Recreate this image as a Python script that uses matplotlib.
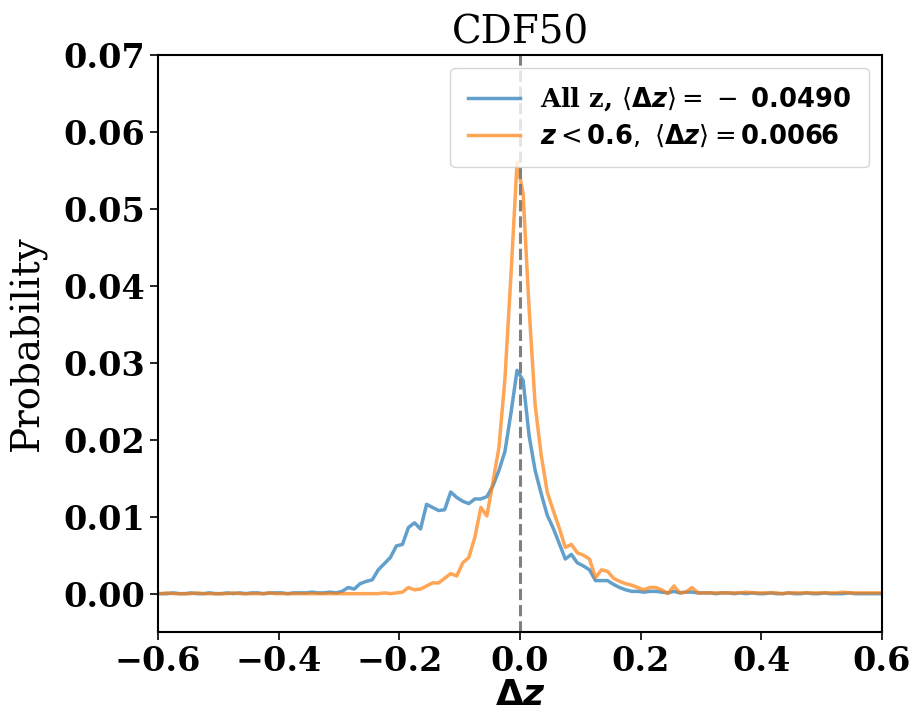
import matplotlib
matplotlib.use('Agg')
import matplotlib.pyplot as plt
import numpy as np

plt.rcParams['font.family'] = ['DejaVu Serif']
plt.rcParams['mathtext.fontset'] = 'dejavusans'

# bin centres of the dz histogram (bin width 0.01)
dz_centers = np.arange(-0.625, 0.6251, 0.01)

# probability per bin, all galaxies
prob_all = [
    0.0000, 0.0000, 0.0001, 0.0000, 0.0000, 0.0001, 0.0000, 0.0000, 0.0001, 0.0000,
    0.0000, 0.0001, 0.0000, 0.0000, 0.0001, 0.0000, 0.0001, 0.0000, 0.0001, 0.0001,
    0.0000, 0.0001, 0.0001, 0.0001, 0.0000, 0.0001, 0.0001, 0.0001, 0.0002, 0.0001,
    0.0001, 0.0002, 0.0001,
    0.0003, 0.0008, 0.0006, 0.0013, 0.0016, 0.0018, 0.0031, 0.0039, 0.0047, 0.0062,
    0.0064, 0.0086, 0.0092, 0.0084, 0.0116, 0.0112, 0.0108, 0.0109, 0.0132, 0.0125,
    0.0120, 0.0117, 0.0123, 0.0123, 0.0126, 0.0140, 0.0160, 0.0185, 0.0235, 0.0290,
    0.0277, 0.0205, 0.0160, 0.0130, 0.0102, 0.0085, 0.0065, 0.0045, 0.0051, 0.0040,
    0.0036, 0.0031, 0.0017, 0.0017, 0.0017, 0.0012, 0.0008, 0.0005, 0.0003, 0.0003,
    0.0002, 0.0003, 0.0003, 0.0002, 0.0001, 0.0003, 0.0001, 0.0002, 0.0002, 0.0001,
    0.0001, 0.0001, 0.0000, 0.0001, 0.0001, 0.0000, 0.0001, 0.0000, 0.0001, 0.0000,
    0.0000, 0.0001, 0.0000, 0.0000, 0.0001, 0.0000, 0.0000, 0.0001, 0.0000, 0.0000,
    0.0001, 0.0000, 0.0000, 0.0000, 0.0001, 0.0000, 0.0000, 0.0000, 0.0000, 0.0000,
    0.0000, 0.0000, 0.0000,
]

# probability per bin, z < 0.6
prob_low = [
    0.0000, 0.0000, 0.0000, 0.0000, 0.0001, 0.0000, 0.0000, 0.0000, 0.0000, 0.0001,
    0.0000, 0.0000, 0.0000, 0.0000, 0.0000, 0.0001, 0.0000, 0.0000, 0.0000, 0.0000,
    0.0000, 0.0001, 0.0000, 0.0000, 0.0000, 0.0000, 0.0000, 0.0000, 0.0000, 0.0000,
    0.0000, 0.0000, 0.0000,
    0.0000, 0.0000, 0.0000, 0.0000, 0.0000, 0.0000, 0.0000, 0.0001, 0.0000, 0.0001,
    0.0002, 0.0008, 0.0005, 0.0006, 0.0010, 0.0014, 0.0014, 0.0020, 0.0026, 0.0023,
    0.0040, 0.0047, 0.0073, 0.0112, 0.0101, 0.0145, 0.0190, 0.0280, 0.0415, 0.0560,
    0.0520, 0.0370, 0.0245, 0.0180, 0.0132, 0.0108, 0.0085, 0.0060, 0.0064, 0.0053,
    0.0050, 0.0045, 0.0021, 0.0031, 0.0029, 0.0020, 0.0016, 0.0013, 0.0011, 0.0008,
    0.0005, 0.0008, 0.0008, 0.0005, 0.0000, 0.0010, 0.0001, 0.0002, 0.0008, 0.0001,
    0.0001, 0.0001, 0.0001, 0.0001, 0.0001, 0.0001, 0.0001, 0.0002, 0.0001, 0.0001,
    0.0001, 0.0001, 0.0001, 0.0000, 0.0001, 0.0001, 0.0001, 0.0001, 0.0001, 0.0001,
    0.0001, 0.0001, 0.0001, 0.0002, 0.0001, 0.0001, 0.0001, 0.0001, 0.0001, 0.0001,
    0.0001, 0.0001, 0.0001,
]

label_all = r'All z, $\langle\mathbf{\Delta}\boldsymbol{z}\rangle = \,-\;\mathbf{0.0490}$'
label_low = r'$\boldsymbol{z} < \mathbf{0.6},\ \langle\mathbf{\Delta}\boldsymbol{z}\rangle = \mathbf{0.0066}$'

fig = plt.figure(figsize=(9.14, 7.2), dpi=100)
ax = fig.add_axes([0.173, 0.122, 0.792, 0.802])

ax.plot(dz_centers, prob_all, color='tab:blue', alpha=0.7, lw=2.5, label=label_all)
ax.plot(dz_centers, prob_low, color='tab:orange', alpha=0.7, lw=2.5, label=label_low)
ax.axvline(0, color='gray', ls='--', lw=2.2)

ax.set_xlim(-0.6, 0.6)
ax.set_ylim(-0.005, 0.07)
ax.set_xticks([-0.6, -0.4, -0.2, 0.0, 0.2, 0.4, 0.6])
ax.set_yticks([0.0, 0.01, 0.02, 0.03, 0.04, 0.05, 0.06, 0.07])
ax.set_yticklabels(['0.00', '0.01', '0.02', '0.03', '0.04', '0.05', '0.06', '0.07'])
for lab in ax.get_xticklabels() + ax.get_yticklabels():
    lab.set_fontweight('bold')
    lab.set_fontsize(24)
ax.tick_params(length=6, width=1.2)
for sp in ax.spines.values():
    sp.set_linewidth(1.5)

ax.set_title('CDF50', fontsize=28, pad=8)
ax.set_ylabel('Probability', fontsize=28, labelpad=12)
ax.set_xlabel(r'$\mathbf{\Delta}\boldsymbol{z}$', fontsize=26, labelpad=0)

ax.legend(loc='upper right', prop={'weight': 'bold', 'size': 18.5}, handlelength=2.0,
          borderaxespad=0.5, borderpad=0.7, labelspacing=0.35)

fig.savefig('out.png', dpi=100)
